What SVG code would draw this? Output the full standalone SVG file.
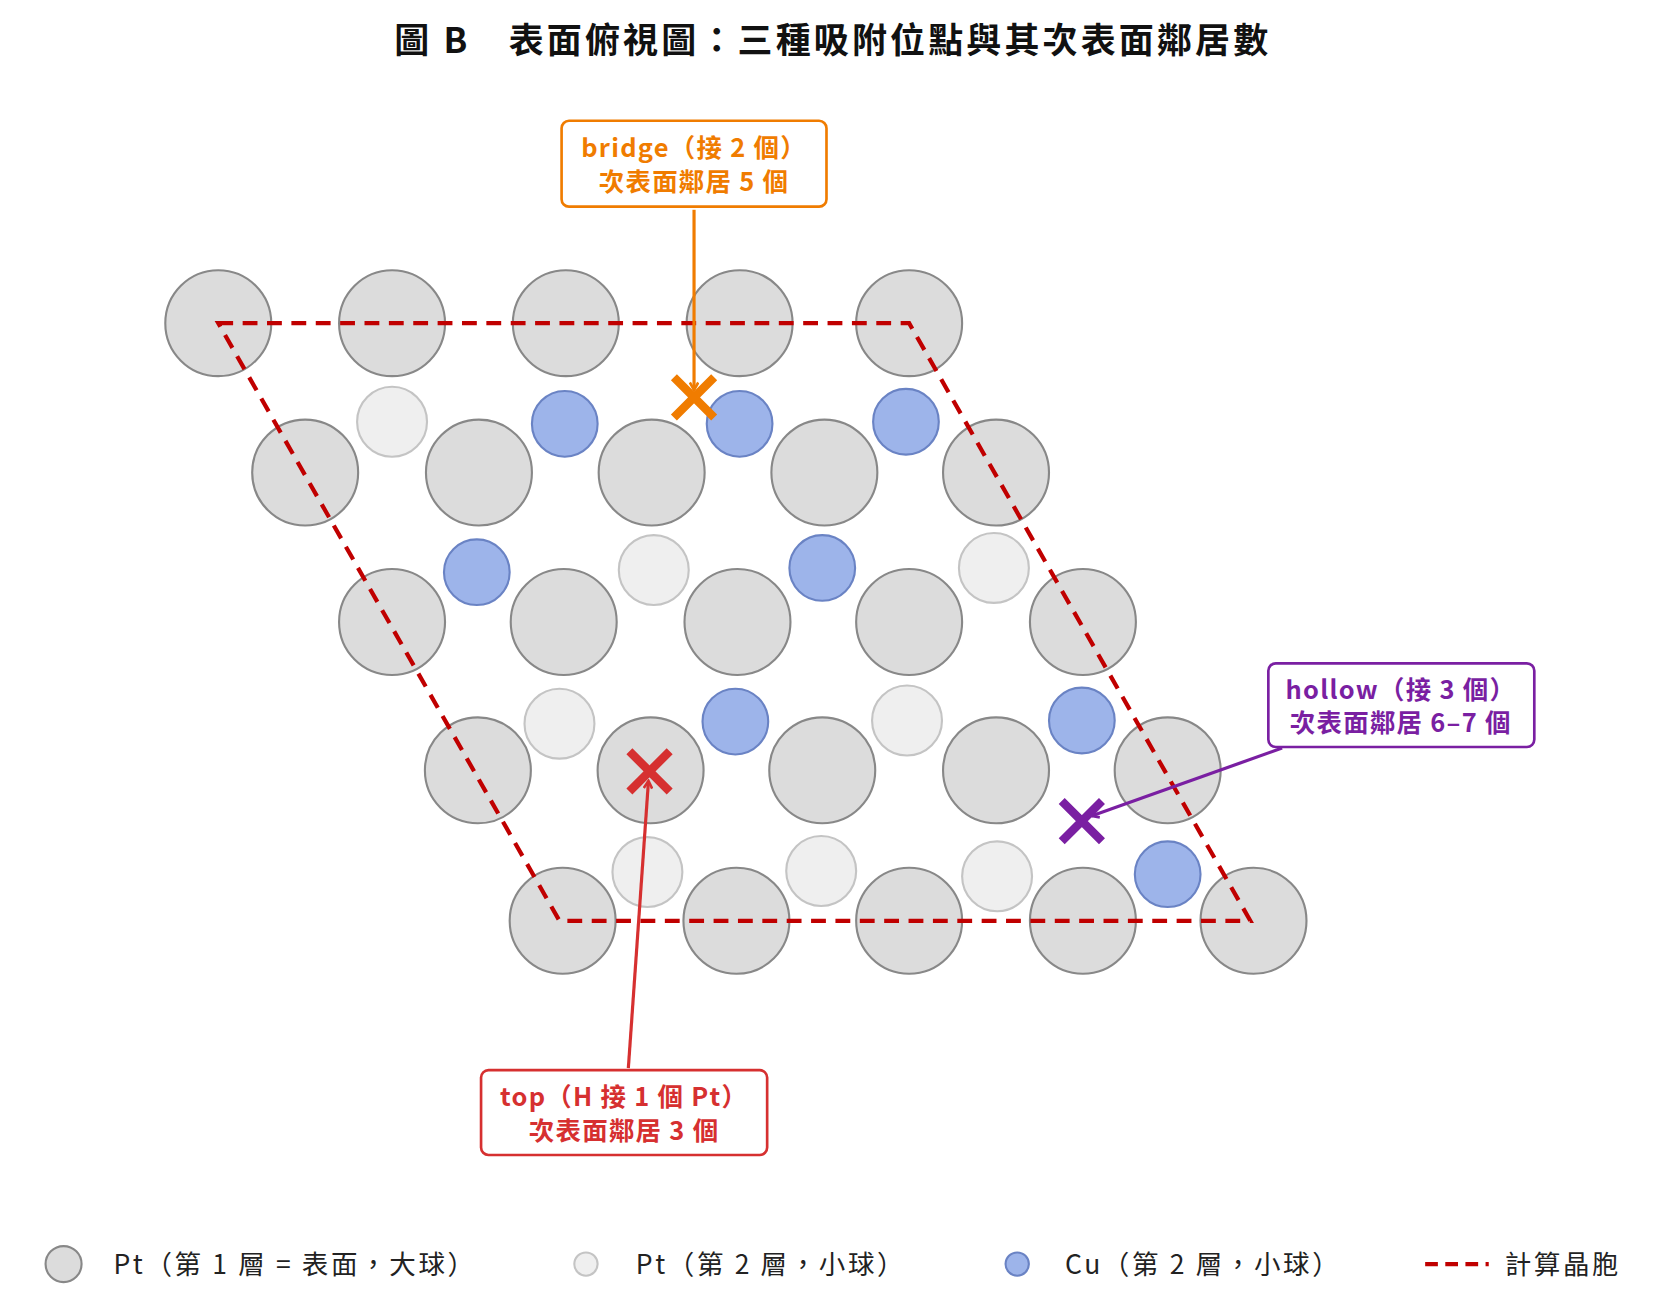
<svg xmlns="http://www.w3.org/2000/svg" width="1653" height="1305" viewBox="0 0 1653 1305">
<style>
text{font-family:"Noto Sans CJK TC","Noto Sans",sans-serif}
.big{fill:#dcdcdc;stroke:#888;stroke-width:2}
.pt2{fill:#efefef;stroke:#c4c4c4;stroke-width:2}
.cu{fill:#9db4ea;stroke:#6a83c4;stroke-width:2}
.lbl{font-size:24px;font-weight:bold;text-anchor:middle;letter-spacing:1.2px}
.leg{font-size:25px;fill:#222;letter-spacing:2.5px}
</style>
<defs>
<marker id="ao" markerWidth="10" markerHeight="10" refX="8" refY="5" orient="auto" markerUnits="userSpaceOnUse"><path d="M1,1 L8,5 L1,9" fill="none" stroke="#f07c00" stroke-width="2.5"/></marker>
<marker id="ar" markerWidth="10" markerHeight="10" refX="8" refY="5" orient="auto" markerUnits="userSpaceOnUse"><path d="M1,1 L8,5 L1,9" fill="none" stroke="#d63030" stroke-width="2.5"/></marker>
<marker id="ap" markerWidth="10" markerHeight="10" refX="8" refY="5" orient="auto" markerUnits="userSpaceOnUse"><path d="M1,1 L8,5 L1,9" fill="none" stroke="#7a1fa2" stroke-width="2.5"/></marker>
</defs>
<rect width="1653" height="1305" fill="#fff"/>
<g transform="scale(1.0596)">
<text x="786" y="50" font-size="33" font-weight="bold" text-anchor="middle" fill="#111" letter-spacing="3">圖 B　表面俯視圖：三種吸附位點與其次表面鄰居數</text>
<g id="surface">
<circle class="big" cx="206" cy="305" r="50"/><circle class="big" cx="370" cy="305" r="50"/><circle class="big" cx="534" cy="305" r="50"/><circle class="big" cx="698" cy="305" r="50"/><circle class="big" cx="858" cy="305" r="50"/>
<circle class="big" cx="288" cy="446" r="50"/><circle class="big" cx="452" cy="446" r="50"/><circle class="big" cx="615" cy="446" r="50"/><circle class="big" cx="778" cy="446" r="50"/><circle class="big" cx="940" cy="446" r="50"/>
<circle class="big" cx="370" cy="587" r="50"/><circle class="big" cx="532" cy="587" r="50"/><circle class="big" cx="696" cy="587" r="50"/><circle class="big" cx="858" cy="587" r="50"/><circle class="big" cx="1022" cy="587" r="50"/>
<circle class="big" cx="451" cy="727" r="50"/><circle class="big" cx="614" cy="727" r="50"/><circle class="big" cx="776" cy="727" r="50"/><circle class="big" cx="940" cy="727" r="50"/><circle class="big" cx="1102" cy="727" r="50"/>
<circle class="big" cx="531" cy="869" r="50"/><circle class="big" cx="695" cy="869" r="50"/><circle class="big" cx="858" cy="869" r="50"/><circle class="big" cx="1022" cy="869" r="50"/><circle class="big" cx="1183" cy="869" r="50"/>
</g>
<g id="subsurface">
<circle class="pt2" cx="370" cy="398" r="33"/><circle class="cu" cx="533" cy="400" r="31"/><circle class="cu" cx="698" cy="400" r="31"/><circle class="cu" cx="855" cy="398" r="31"/>
<circle class="cu" cx="450" cy="540" r="31"/><circle class="pt2" cx="617" cy="538" r="33"/><circle class="cu" cx="776" cy="536" r="31"/><circle class="pt2" cx="938" cy="536" r="33"/>
<circle class="pt2" cx="528" cy="683" r="33"/><circle class="cu" cx="694" cy="681" r="31"/><circle class="pt2" cx="856" cy="680" r="33"/><circle class="cu" cx="1021" cy="680" r="31"/>
<circle class="pt2" cx="611" cy="823" r="33"/><circle class="pt2" cx="775" cy="822" r="33"/><circle class="pt2" cx="941" cy="827" r="33"/><circle class="cu" cx="1102" cy="825" r="31"/>
</g>
<g id="cell">
<path d="M206,305 L858,305 L1180,869 L528,869 Z" fill="none" stroke="#c00000" stroke-width="4" stroke-dasharray="14,9"/>
</g>
<g id="connectors" fill="none" stroke-width="3">
<line x1="655" y1="198" x2="655" y2="368" stroke="#f07c00" marker-end="url(#ao)"/>
<line x1="593" y1="1008" x2="612" y2="737" stroke="#d63030" marker-end="url(#ar)"/>
<line x1="1210" y1="706" x2="1030" y2="770" stroke="#7a1fa2" marker-end="url(#ap)"/>
</g>
<g id="bridge">
<path d="M636,356 L674,394 M674,356 L636,394" stroke="#f07c00" stroke-width="8"/>
<rect x="530" y="114" width="250" height="81" rx="7" fill="#fff" stroke="#f07c00" stroke-width="2.5"/>
<text class="lbl" x="655" y="148" fill="#f07c00">bridge（接 2 個）</text>
<text class="lbl" x="655" y="180" fill="#f07c00">次表面鄰居 5 個</text>
</g>
<g id="top">
<path d="M594,709 L632,747 M632,709 L594,747" stroke="#d63030" stroke-width="8"/>
<rect x="454" y="1010" width="270" height="80" rx="7" fill="#fff" stroke="#d63030" stroke-width="2.5"/>
<text class="lbl" x="589" y="1044" fill="#d63030">top（H 接 1 個 Pt）</text>
<text class="lbl" x="589" y="1076" fill="#d63030">次表面鄰居 3 個</text>
</g>
<g id="hollow">
<path d="M1002,756 L1040,794 M1040,756 L1002,794" stroke="#7a1fa2" stroke-width="8"/>
<rect x="1197" y="626" width="251" height="79" rx="7" fill="#fff" stroke="#7a1fa2" stroke-width="2.5"/>
<text class="lbl" x="1322" y="660" fill="#7a1fa2">hollow（接 3 個）</text>
<text class="lbl" x="1322" y="691" fill="#7a1fa2">次表面鄰居 6–7 個</text>
</g>
<g id="legend">
<circle class="big" cx="60" cy="1193" r="17"/>
<text class="leg" x="107" y="1202">Pt（第 1 層 = 表面，大球）</text>
<circle class="pt2" cx="553" cy="1193" r="11"/>
<text class="leg" x="600" y="1202">Pt（第 2 層，小球）</text>
<circle class="cu" cx="960" cy="1193" r="11"/>
<text class="leg" x="1005" y="1202">Cu（第 2 層，小球）</text>
<line x1="1345" y1="1193" x2="1405" y2="1193" stroke="#c00000" stroke-width="4" stroke-dasharray="12,7"/>
<text class="leg" x="1420" y="1202">計算晶胞</text>
</g>
</g>
</svg>
